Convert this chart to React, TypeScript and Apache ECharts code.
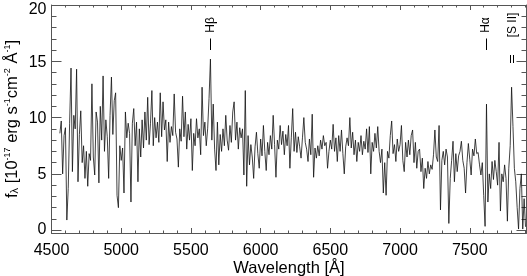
import React, { useEffect, useRef } from 'react';
import * as echarts from 'echarts';

// Spectrum sampling grid (Angstrom) and flux values (10^-17 erg s^-1 cm^-2 A^-1)
const LAMBDA_START = 4560;
const LAMBDA_STEP = 10;
const flux: number[] = [
  8.6, 9.7, 5.0, 8.4, 9.1, 0.9, 3.7, 9.5, 14.4, 5.2,
  10.2, 9.0, 14.3, 4.3, 8.5, 10.6, 6.0, 7.5, 4.6, 7.0,
  3.9, 6.8, 6.2, 13.0, 6.5, 4.9, 10.5, 9.6, 4.2, 11.0,
  8.0, 13.7, 7.0, 9.8, 8.3, 4.6, 10.2, 13.6, 8.5, 11.5,
  12.2, 3.1, 2.0, 7.5, 6.2, 7.3, 3.3, 10.5, 8.2, 9.5,
  8.6, 2.5, 9.5, 10.8, 7.5, 9.6, 4.3, 9.0, 6.5, 9.8,
  7.3, 10.5, 8.0, 11.8, 7.6, 9.5, 12.4, 7.5, 10.0, 8.2,
  9.6, 7.8, 12.2, 8.3, 11.4, 8.9, 9.8, 6.1, 9.6, 7.8,
  9.2, 8.4, 12.1, 8.7, 8.1, 5.6, 9.0, 7.9, 11.9, 8.3,
  10.5, 7.2, 9.4, 8.0, 9.9, 5.3, 8.6, 7.5, 9.9, 8.2,
  9.0, 6.7, 12.7, 8.4, 9.6, 7.5, 9.0, 11.7, 15.2, 8.0,
  11.2, 7.2, 5.3, 9.6, 5.8, 8.5, 7.0, 9.0, 7.5, 10.2,
  8.0, 7.1, 9.3, 7.8, 10.5, 11.4, 8.0, 9.6, 7.2, 9.1,
  8.2, 9.0, 4.9, 12.4, 3.9, 8.4, 5.8, 7.6, 6.5, 4.6,
  7.4, 8.7, 6.8, 5.5, 8.1, 6.6, 9.3, 7.0, 5.3, 7.8,
  6.7, 8.4, 7.2, 10.2, 7.6, 4.7, 8.0, 7.2, 9.3, 7.6,
  8.8, 6.7, 8.5, 7.5, 9.3, 5.5, 8.2, 10.8, 7.0, 8.7,
  6.9, 8.3, 7.4, 6.4, 8.2, 10.0, 7.8, 7.2, 6.1, 8.1,
  6.7, 10.3, 4.7, 7.3, 6.4, 7.5, 6.6, 8.0, 7.2, 8.4,
  7.5, 7.8, 5.5, 7.0, 8.0, 7.2, 9.4, 7.0, 8.2, 6.1,
  8.4, 7.0, 8.9, 6.8, 5.0, 7.4, 8.2, 7.5, 10.0, 7.3,
  8.7, 6.7, 8.0, 6.1, 7.8, 7.0, 8.4, 6.7, 7.9, 7.2,
  9.0, 6.9, 9.2, 5.0, 7.8, 7.0, 8.6, 7.3, 9.2, 7.0,
  6.0, 7.2, 3.3, 6.0, 3.1, 7.0, 6.4, 8.4, 9.7, 6.8,
  7.6, 6.1, 8.1, 7.0, 7.6, 9.3, 6.2, 5.2, 7.8, 6.5,
  8.0, 6.7, 8.4, 8.9, 6.0, 7.8, 5.5, 7.0, 7.2, 5.2,
  6.4, 3.7, 5.5, 4.6, 6.1, 5.0, 5.8, 5.4, 6.7, 8.9,
  6.5, 6.1, 9.3, 1.8, 6.2, 7.0, 5.8, 7.2, 6.5, 0.6,
  4.6, 6.2, 7.9, 4.3, 6.8, 5.2, 6.6, 7.0, 7.9, 6.2,
  5.5, 3.3, 6.0, 7.7, 6.3, 4.9, 7.2, 6.6, 8.1, 6.8,
  6.9, 5.8, 4.9, 6.0, 3.1, 0.34, 11.2, 2.5, 5.0, 3.7,
  6.1, 4.5, 6.2, 5.2, 4.0, 7.8, 1.7, 5.0, 4.3, 5.8,
  4.6, 0.8, 5.5, 7.5, 12.7, 9.2, 5.5, 4.3, 2.0, 0.1,
  3.7, 5.0, 0.1, 2.8, 0.3,
];

const X_MIN = 4500;
const X_MAX = 7907;
const Y_MIN = -0.25;
const Y_MAX = 20;
const xMajorTicks = [4500, 5000, 5500, 6000, 6500, 7000, 7500];
const xMinorTicks = [
  4600, 4700, 4800, 4900, 5100, 5200, 5300, 5400, 5600, 5700, 5800, 5900,
  6100, 6200, 6300, 6400, 6600, 6700, 6800, 6900, 7100, 7200, 7300, 7400,
  7600, 7700, 7800, 7900,
];
const yMajorTicks = [0, 5, 10, 15, 20];
const yMinorTicks = [1, 2, 3, 4, 6, 7, 8, 9, 11, 12, 13, 14, 16, 17, 18, 19];

// Emission line markers: label, label wavelength, marker wavelengths
const lineLabels = ['Hβ', 'Hα', '[S II]'];
const lineLabelAt = [5640, 7612, 7800];
const lineMarkers = [[5640], [7618], [7792, 7808]];
const lineMarkTop = [38.5, 38.5, 55];
const lineMarkBottom = [50, 50, 63];

const FONT = '"Liberation Sans", Arial, Helvetica, sans-serif';
const FRAME = '#555';

export default function App() {
  const ref = useRef<HTMLDivElement>(null);
  useEffect(() => {
    const chart = echarts.init(ref.current!, undefined, { renderer: 'svg' });
    const data = flux.map((f, i) => [LAMBDA_START + i * LAMBDA_STEP, f]);

    const xAxis = (pos: 'bottom' | 'top', major: boolean) => ({
      type: 'value',
      min: X_MIN,
      max: X_MAX,
      position: pos,
      axisLine: { show: major, onZero: false, lineStyle: { color: FRAME, width: 1 } },
      axisTick: {
        show: true,
        inside: true,
        length: major ? 5 : 2.5,
        customValues: major ? xMajorTicks : xMinorTicks,
        lineStyle: { color: FRAME, width: 1 },
      },
      axisLabel: {
        show: major && pos === 'bottom',
        customValues: xMajorTicks,
        margin: 8,
        fontSize: 16,
        fontFamily: FONT,
        color: '#000',
        formatter: (v: number) => String(v),
      },
      splitLine: { show: false },
    });
    const yAxis = (pos: 'left' | 'right', major: boolean) => ({
      type: 'value',
      min: Y_MIN,
      max: Y_MAX,
      position: pos,
      axisLine: { show: major, onZero: false, lineStyle: { color: FRAME, width: 1 } },
      axisTick: {
        show: true,
        inside: true,
        length: major ? 10 : 5,
        customValues: major ? yMajorTicks : yMinorTicks,
        lineStyle: { color: FRAME, width: 1 },
      },
      axisLabel: {
        show: major && pos === 'left',
        customValues: yMajorTicks,
        margin: 5,
        fontSize: 16,
        fontFamily: FONT,
        color: '#000',
        formatter: (v: number) => (v === 20 ? '{t|20}' : v === 0 ? '{b|0}' : '{n|' + v + '}'),
        rich: {
          n: { fontSize: 16, fontFamily: FONT, color: '#000' },
          t: { fontSize: 16, fontFamily: FONT, color: '#000', padding: [6, 0, 0, 0] },
          b: { fontSize: 16, fontFamily: FONT, color: '#000', padding: [0, 0, 4, 0] },
        },
      },
      splitLine: { show: false },
    });

    chart.setOption({
      animation: false,
      grid: { left: 51.5, right: 0.5, top: 3.5, bottom: 43, containLabel: false },
      xAxis: [xAxis('bottom', true), xAxis('bottom', false), xAxis('top', true), xAxis('top', false)],
      yAxis: [yAxis('left', true), yAxis('left', false), yAxis('right', true), yAxis('right', false)],
      series: [
        {
          type: 'line',
          xAxisIndex: 0,
          yAxisIndex: 0,
          data,
          showSymbol: false,
          symbol: 'none',
          lineStyle: { color: '#111', width: 0.8 },
          silent: true,
        },
      ],
    });

    const graphics: any[] = [];
    lineLabels.forEach((label, k) => {
      const tx = chart.convertToPixel({ xAxisIndex: 0 }, lineLabelAt[k]) as number;
      graphics.push({
        type: 'text',
        x: tx,
        y: 25,
        rotation: Math.PI / 2,
        style: {
          text: label,
          fontSize: 12,
          fontFamily: FONT,
          fill: '#000',
          textAlign: 'center',
          textVerticalAlign: 'middle',
        },
      });
      lineMarkers[k].forEach((wl) => {
        const mx = Math.round(chart.convertToPixel({ xAxisIndex: 0 }, wl) as number) + 0.5;
        graphics.push({
          type: 'line',
          shape: { x1: mx, y1: lineMarkTop[k], x2: mx, y2: lineMarkBottom[k] },
          style: { stroke: '#000', lineWidth: 1 },
        });
      });
    });
    graphics.push({
      type: 'text',
      x: 289,
      y: 267,
      style: {
        text: 'Wavelength [Å]',
        fontSize: 16.5,
        fontFamily: FONT,
        fill: '#000',
        textAlign: 'center',
        textVerticalAlign: 'middle',
      },
    });
    graphics.push({
      type: 'text',
      x: 11,
      y: 119,
      rotation: Math.PI / 2,
      style: {
        text: '{n|f}{s|λ}{n| [10}{p|-17}{n| erg s}{p|-1}{n|cm}{p|-2}{n| Å}{p|-1}{n|]}',
        textAlign: 'center',
        textVerticalAlign: 'middle',
        fill: '#000',
        rich: {
          n: { fontSize: 16.5, fontFamily: FONT, fill: '#000', verticalAlign: 'middle' },
          s: { fontSize: 11, fontFamily: FONT, fill: '#000', verticalAlign: 'bottom' },
          p: { fontSize: 9, fontFamily: FONT, fill: '#000', verticalAlign: 'top' },
        },
      },
    });
    chart.setOption({ graphic: graphics });

    return () => chart.dispose();
  }, []);
  return <div ref={ref} style={{ position: 'fixed', left: 0, top: 0, width: 527, height: 276 }} />;
}
